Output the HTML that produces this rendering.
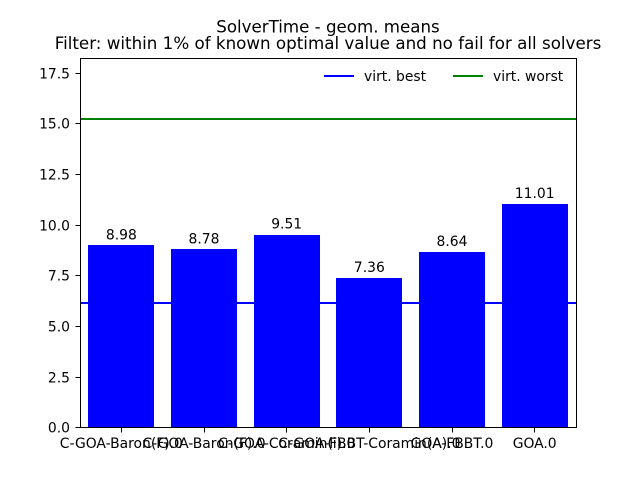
<!DOCTYPE html>
<html>
<head>
<meta charset="utf-8">
<style>
html,body{margin:0;padding:0;background:#fff;width:640px;height:480px;overflow:hidden}
svg{display:block}
text{font-family:"DejaVu Sans","Liberation Sans",sans-serif;fill:#000;font-size:13.89px}
</style>
</head>
<body>
<svg id="chart" width="640" height="480" viewBox="0 0 640 480" xmlns="http://www.w3.org/2000/svg">
<text x="328" y="32.5" text-anchor="middle" style="font-size:16.67px">SolverTime - geom. means</text>
<text x="328" y="49" text-anchor="middle" style="font-size:16.72px">Filter: within 1% of known optimal value and no fail for all solvers</text>
</svg>
<script>
const categories = ["C-GOA-Baron(F).0","C-GOA-Baron(F).0","C-GOA-Coramin(i).0","C-GOA-FBBT-Coramin(A).0","GOA-FBBT.0","GOA.0"];
const seriesValues = [8.98,8.78,9.51,7.36,8.64,11.01];
const valueLabels = ["8.98","8.78","9.51","7.36","8.64","11.01"];
const yTicks = [0,2.5,5,7.5,10,12.5,15,17.5];
const yTickLabels = ["0.0","2.5","5.0","7.5","10.0","12.5","15.0","17.5"];
const virtBest = 6.15;
const virtWorst = 15.22;
const yMax = 18.25;
const xDomain = [-0.5,5.5];

const svg = document.getElementById('chart');
const NS = 'http://www.w3.org/2000/svg';
const L = 80, R = 576, T = 57.6, B = 427.2;
const xScale = v => L + (v - xDomain[0]) / (xDomain[1] - xDomain[0]) * (R - L);
const yScale = v => B - v / yMax * (B - T);
const crispX = v => Math.floor(v) + 0.5;
const crispY = v => Math.round(v) + 0.5;
function mk(tag, attrs, text){
  const e = document.createElementNS(NS, tag);
  for (const k in attrs) e.setAttribute(k, attrs[k]);
  if (text !== undefined) e.textContent = text;
  svg.appendChild(e);
  return e;
}
let el;
el = mk('line', {x1:L, x2:R, y1:Math.round(yScale(virtBest)), y2:Math.round(yScale(virtBest)), stroke:'#0000ff', 'stroke-width':2});


el = mk('line', {x1:L, x2:R, y1:Math.round(yScale(virtWorst)), y2:Math.round(yScale(virtWorst)), stroke:'#008000', 'stroke-width':2});



categories.forEach((c, i) => {
  const x0 = Math.round(xScale(i - 0.4)), x1 = Math.round(xScale(i + 0.4)), y = Math.round(yScale(seriesValues[i]));
  let b = mk('rect', {x:x0, y:y, width:x1 - x0, height:Math.floor(B) - y, fill:'#0000ff'});
  
  
  let v = mk('text', {x:xScale(i), y:yScale(seriesValues[i]) - 6, 'text-anchor':'middle'}, valueLabels[i]);
  
  
  let t = mk('line', {x1:crispX(xScale(i)), x2:crispX(xScale(i)), y1:427.5, y2:432.5, stroke:'#000', 'stroke-width':1});
  
  
  let l = mk('text', {x:xScale(i), y:448, 'text-anchor':'middle'}, c);
  
  
});

yTicks.forEach((v, i) => {
  const y = v === 0 ? 427.5 : crispY(yScale(v));
  let t = mk('line', {x1:L - 4.5, x2:L + 0.5, y1:y, y2:y, stroke:'#000', 'stroke-width':1});
  
  
  let l = mk('text', {x:70, y:y + 5, 'text-anchor':'end'}, yTickLabels[i]);
  
  
});

el = mk('rect', {x:80.5, y:58.5, width:496, height:369, fill:'none', stroke:'#000', 'stroke-width':1});



el = mk('line', {x1:324, x2:354, y1:76, y2:76, stroke:'#0000ff', 'stroke-width':2});


el = mk('text', {x:364, y:81}, 'virt. best');


el = mk('line', {x1:453, x2:483, y1:76, y2:76, stroke:'#008000', 'stroke-width':2});


el = mk('text', {x:493, y:81}, 'virt. worst');


</script>
</body>
</html>
